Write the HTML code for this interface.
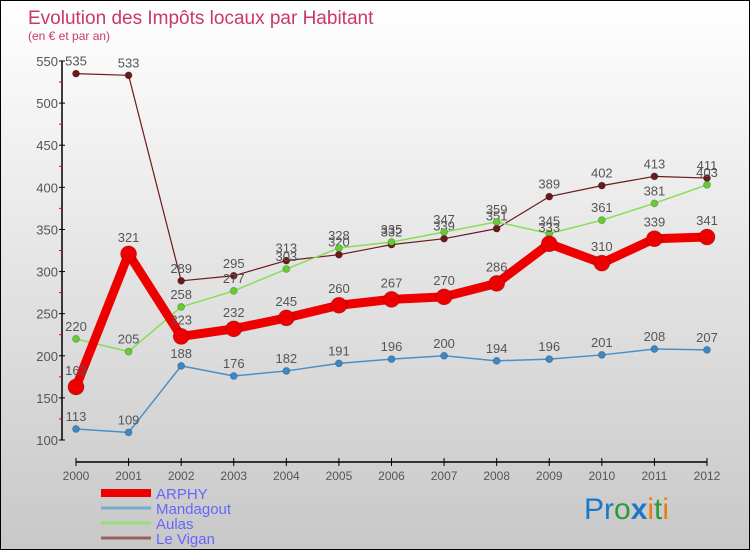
<!DOCTYPE html>
<html><head><meta charset="utf-8">
<style>
html,body{margin:0;padding:0;}
body{width:750px;height:550px;overflow:hidden;font-family:"Liberation Sans",sans-serif;}
#wrap{position:relative;width:748px;height:548px;border:1px solid #000;background:linear-gradient(#fff,#c8c8c8);}
svg{position:absolute;left:0;top:0;}
</style></head>
<body>
<div id="wrap">
<svg id="chart" width="750" height="550">
<text x="27" y="23" font-size="19" fill="#c8386a">Evolution des Impôts locaux par Habitant</text>
<text x="27" y="39" font-size="12" fill="#c8386a">(en € et par an)</text>
<g id="axes"></g>
<g id="series"></g>
<g id="legend"></g>
<text x="583" y="518" font-size="30"><tspan fill="#1a78c8">Pr</tspan><tspan fill="#2a9a3a">o</tspan><tspan fill="#1a78c8" font-weight="bold">x</tspan><tspan fill="#f07a10">i</tspan><tspan fill="#2a9a3a">t</tspan><tspan fill="#f07a10">i</tspan></text>
</svg>
</div>
<script>
const years=[2000,2001,2002,2003,2004,2005,2006,2007,2008,2009,2010,2011,2012];
const yTicks=[100,150,200,250,300,350,400,450,500,550];
const arphy=[163,321,223,232,245,260,267,270,286,333,310,339,341];
const mandagout=[113,109,188,176,182,191,196,200,194,196,201,208,207];
const aulas=[220,205,258,277,303,328,335,347,359,345,361,381,403];
const leVigan=[535,533,289,295,313,320,332,339,351,389,402,413,411];
const seriesNames=["ARPHY","Mandagout","Aulas","Le Vigan"];

const NS="http://www.w3.org/2000/svg";
const x0=75,x1=706,yb=439,yt=60,vmin=100,vmax=550;
function xs(i){return x0+(x1-x0)*i/(years.length-1);}
function ys(v){return yb-(yb-yt)*(v-vmin)/(vmax-vmin);}
function mk(tag,attrs,parent){const e=document.createElementNS(NS,tag);for(const k in attrs)e.setAttribute(k,attrs[k]);parent.appendChild(e);return e;}
const axes=document.getElementById('axes');
let ya=mk('line',{x1:61,y1:ys(550),x2:61,y2:ys(100),stroke:'#000','stroke-width':1.5},axes);


yTicks.forEach((v,i)=>{
  mk('line',{x1:58,x2:64,y1:ys(v),y2:ys(v),stroke:'#000'},axes);
  if(i<yTicks.length-1){mk('line',{x1:58,x2:61,y1:ys(v+25),y2:ys(v+25),stroke:'#e00'},axes);}
  const t=mk('text',{x:57,y:ys(v)+5,'font-size':13,fill:'#555','text-anchor':'end'},axes);
  t.textContent=v;
  
  
});
let xa=mk('line',{x1:x0,y1:461,x2:x1,y2:461,stroke:'#000','stroke-width':1.5},axes);


years.forEach((y,i)=>{
  mk('line',{x1:xs(i),x2:xs(i),y1:457,y2:465,stroke:'#000'},axes);
  const t=mk('text',{x:xs(i),y:479,'font-size':12,fill:'#555','text-anchor':'middle'},axes);
  t.textContent=y;
  
  
});
const sg=document.getElementById('series');
const defs=[
 {data:leVigan,color:'#6b1a1a',w:1.2,r:3.5,name:'le-vigan'},
 {data:aulas,color:'#88dd55',w:1.5,r:3.5,name:'aulas'},
 {data:mandagout,color:'#4a90c8',w:1.5,r:3.5,name:'mandagout'},
 {data:arphy,color:'#ee0000',w:9,r:8,name:'arphy'}
];
const ptFill={'le-vigan':'#6b1a1a','aulas':'#66cc33','mandagout':'#3a88c8','arphy':'#ee0000'};
defs.forEach(d=>{
  const g=mk('g',{},sg);
  
  
  const pts=d.data.map((v,i)=>xs(i)+','+ys(v)).join(' ');
  const pl=mk('polyline',{points:pts,fill:'none',stroke:d.color,'stroke-width':d.w,'stroke-linejoin':'round'},g);
  
  
  d.data.forEach((v,i)=>{
    const c=mk('circle',{cx:xs(i),cy:ys(v),r:d.r,fill:ptFill[d.name],stroke:'rgba(0,0,0,0.25)','stroke-width':0.8},g);
    
    
    const t=mk('text',{x:xs(i),y:ys(v)-(d.name==='arphy'?12:8),'font-size':13,fill:'#555','text-anchor':'middle'},g);
    t.textContent=v;
    
    
  });
});
const lg=document.getElementById('legend');
const lcol=['#ee0000','#7aaad0','#99dd77','#9a6060'];
const lw=[8,3,3,3];
seriesNames.forEach((n,i)=>{
  const y=492+i*15;
  const g=mk('g',{},lg);
  
  
  mk('line',{x1:100,x2:150,y1:y,y2:y,stroke:lcol[i],'stroke-width':lw[i]},g);
  const t=mk('text',{x:155,y:y+6,'font-size':15,fill:'#6666ff'},g);
  t.textContent=n;
});
</script>
</body></html>
